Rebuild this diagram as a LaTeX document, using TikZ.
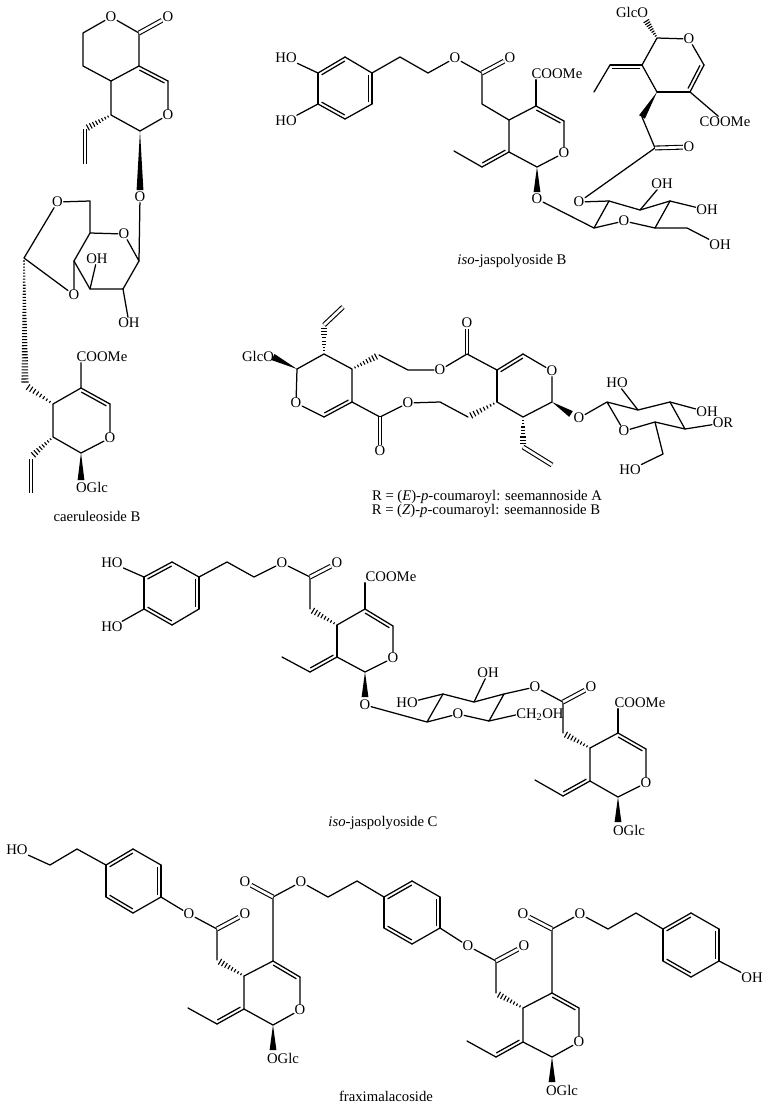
\documentclass[tikz,border=0pt]{standalone}
\usepackage{fontspec}
\setmainfont{Liberation Serif}
\usetikzlibrary{calc}
\tikzstyle{bond}=[line width=1.25pt,line cap=round,line join=round]
\tikzstyle{dblbond}=[line width=1.1pt,double,double distance=2.7pt]
\tikzstyle{atom}=[inner sep=0.6pt,font=\fontsize{14.7}{15}\selectfont]
\tikzstyle{caption}=[inner sep=0pt,font=\fontsize{14.7}{15}\selectfont]
% ring double bond, second line on one side (#1 = 1 or -1)
\newcommand{\dbond}[3][1]{
  \draw[bond] (#2) -- (#3);
  \draw[bond] ($(#2)!2.5pt!(#3)!{#1*3.4pt}!90:(#3)$) -- ($(#3)!2.5pt!(#2)!{#1*3.4pt}!-90:(#2)$);
}
\newcommand{\wbond}[2]{
  \fill ($(#2)!3.4pt!90:(#1)$) -- (#1) -- ($(#2)!3.4pt!-90:(#1)$) -- cycle;
}
\newcommand{\hbond}[3][9]{
  \foreach \k in {1,...,#1}{
    \pgfmathsetmacro\hpos{\k/#1}
    \draw[line width=1.1pt] ($(#2)!\hpos!(#3)!{(0.2+0.8*\hpos)*3.6pt}!90:(#3)$) -- ($(#2)!\hpos!(#3)!{(0.2+0.8*\hpos)*3.6pt}!-90:(#3)$);
  }
}
\newcommand{\chain}[1]{\draw[bond] #1;}
\begin{document}
\begin{tikzpicture}[x=1pt,y=-1pt]
  \useasboundingbox (0,0) rectangle (769,1106);

  % caeruleoside B
  \node[atom] (caO1) at (111,17) {O};
  \node[atom] (caO2) at (168,17) {O};
  \node[atom] (caO3) at (168,115) {O};
  \node[atom] (caO4) at (140,197) {O};
  \node[atom] (caO5) at (57.5,202) {O};
  \node[atom] (caO6) at (124,234) {O};
  \node[atom] (caO7) at (74,295) {O};
  \node[atom] (caOH1) at (97,259) {OH};
  \node[atom] (caOH2) at (129,323) {OH};
  \node[atom] (caest) at (102,357) {COOMe};
  \node[atom] (caO8) at (110,438) {O};
  \node[atom] (caglc) at (92,487) {OGlc};
  \node[caption] (caname) at (97,516) {caeruleoside B};
  \foreach \n/\x/\y in {c1/139/33,c2/83/33,c3/83/66,c4/111/81,c5/139/66,c6/168/81,c7/140/131,c8/111/115,
      c9/85/129,c10/85/164,c11/90/201,c12/90/233,c13/139/261,c14/123/289,c15/90/289,c16/74/261,c17/24/258,
      c18/25/385,c19/53/404,c20/81/388,c21/110/404,c22/81/453,c23/53/437,c24/31/457,c25/31/493,c26/81/480,
      c27/140/190,c28/31/459}
    {\coordinate (\n) at (\x,\y);}
  \chain{(caO1) -- (c2) -- (c3) -- (c4) -- (c5) -- (c1) -- (caO1)}
  \draw[dblbond] (c1) -- (caO2);
  \dbond[-1]{c5}{c6}
  \chain{(c6) -- (caO3) -- (c7) -- (c8) -- (c4)}
  \hbond[9]{c8}{c9}
  \draw[dblbond] (c9) -- (c10);
  \wbond{c7}{c27}
  \chain{(caO4) -- (c13) -- (caO6) -- (c12) -- (c11) -- (caO5) -- (c17) -- (caO7) -- (c16) -- (c12)}
  \chain{(c13) -- (c14) -- (c15) -- (c16)}
  \chain{(c15) -- (caOH1)}
  \chain{(c14) -- (caOH2)}
  \hbond[42]{c17}{c18}
  \hbond[9]{c19}{c18}
  \chain{(caest.south -| c20) -- (c20) -- (c19) -- (c23) -- (c22) -- (caO8) -- (c21)}
  \dbond[-1]{c20}{c21}
  \hbond[9]{c23}{c24}
  \draw[dblbond] (c28) -- (c25);
  \wbond{c22}{c26}

  % iso-jaspolyoside B
  \node[atom] (jbHO1) at (286,58) {HO};
  \node[atom] (jbHO2) at (286,121) {HO};
  \node[atom] (jbO1) at (455,58) {O};
  \node[atom] (jbO2) at (510,58) {O};
  \node[atom] (jbest1) at (557,74) {COOMe};
  \node[atom] (jbO3) at (564,153) {O};
  \node[atom] (jbO4) at (537,199) {O};
  \node[atom] (jbO5) at (579,202) {O};
  \node[atom] (jbO6) at (624,221) {O};
  \node[atom] (jbOH1) at (662,184) {OH};
  \node[atom] (jbOH2) at (707,210) {OH};
  \node[atom] (jbOH3) at (720,245) {OH};
  \node[atom] (jbO7) at (689,147) {O};
  \node[atom] (jbO8) at (689,39) {O};
  \node[atom] (jbglc) at (632,12) {GlcO};
  \node[atom] (jbest2) at (725,122) {COOMe};
  \node[caption] (jbname) at (512,261) {\textit{iso}-jaspolyoside B};
  \foreach \n/\x/\y in {b1/318/73,b2/345/57,b3/372/73,b4/372/104,b5/345/119,b6/318/104,b7/400/57,b8/428/73,
      b9/482/73,b10/482/104,b11/509/120,b12/509/152,b13/482/167,b14/454/151,b15/536/106,b16/564/121,b17/537/167,
      b18/537/192,b19/594/228,b20/609/201,b21/640/210,b22/670/201,b23/655/228,b24/687/228,b25/655/148,b26/642/117,
      b27/657/92,b28/690/92,b29/704/65,b30/657/38,b31/642/65,b32/610/65,b33/594/92,b34/645/19}
    {\coordinate (\n) at (\x,\y);}
  \dbond[-1]{b1}{b2}
  \chain{(b2) -- (b3)}
  \dbond[-1]{b3}{b4}
  \chain{(b4) -- (b5)}
  \dbond[-1]{b5}{b6}
  \chain{(b6) -- (b1)}
  \chain{(jbHO1) -- (b1)}
  \chain{(jbHO2) -- (b6)}
  \chain{(b3) -- (b7) -- (b8) -- (jbO1) -- (b9) -- (b10) -- (b11) -- (b12)}
  \draw[dblbond] (b9) -- (jbO2);
  \dbond[-1]{b12}{b13}
  \chain{(b13) -- (b14)}
  \chain{(b11) -- (b15)}
  \chain{(jbest1.south -| b15) -- (b15)}
  \dbond[-1]{b15}{b16}
  \chain{(b16) -- (jbO3) -- (b17) -- (b12)}
  \wbond{b17}{b18}
  \chain{(jbO4) -- (b19) -- (b20) -- (b21) -- (b22)}
  \chain{(b19) -- (jbO6) -- (b23) -- (b22)}
  \chain{(b23) -- (b24) -- (jbOH3)}
  \chain{(b20) -- (jbO5) -- (b25) -- (b26)}
  \chain{(b21) -- (jbOH1)}
  \chain{(b22) -- (jbOH2)}
  \draw[dblbond] (b25) -- (jbO7);
  \wbond{b27}{b26}
  \chain{(b27) -- (b28)}
  \dbond[1]{b28}{b29}
  \chain{(b29) -- (jbO8) -- (b30) -- (b31) -- (b27)}
  \dbond[1]{b31}{b32}
  \chain{(b32) -- (b33)}
  \hbond[9]{b30}{b34}
  \chain{(b28) -- (jbest2)}

  % seemannoside A and B
  \node[atom] (smglc) at (258,356) {GlcO};
  \node[atom] (smO1) at (296,403) {O};
  \node[atom] (smO2) at (440,370) {O};
  \node[atom] (smO3) at (467,323) {O};
  \node[atom] (smO4) at (408,403) {O};
  \node[atom] (smO5) at (380,451) {O};
  \node[atom] (smO6) at (552,371) {O};
  \node[atom] (smO7) at (579,418) {O};
  \node[atom] (smO8) at (624,431) {O};
  \node[atom] (smHO1) at (617,383) {HO};
  \node[atom] (smOH) at (707,412) {OH};
  \node[atom] (smOR) at (723,423) {OR};
  \node[atom] (smHO2) at (630,470) {HO};
  \node[caption] (smnameA) at (487,497) {R = (\textit{E})-\textit{p}-coumaroyl: seemannoside A};
  \node[caption] (smnameB) at (486,511) {R = (\textit{Z})-\textit{p}-coumaroyl: seemannoside B};
  \foreach \n/\x/\y in {s1/297/369,s2/324/417,s3/352/402,s4/352/369,s5/324/354,s6/324/325,s7/343/307,s8/379/355,
      s9/408/370,s10/467/354,s11/497/370,s12/380/417,s13/440/402,s14/468/417,s15/497/402,s16/523/354,s17/552/402,
      s18/523/417,s19/523/447,s20/552/465,s21/571/414,s22/607/402,s23/638/410,s24/670/402,s25/685/429,s26/655/422,
      s27/663/454,s28/273/357}
    {\coordinate (\n) at (\x,\y);}
  \wbond{s1}{s28}
  \chain{(s1) -- (smO1) -- (s2)}
  \dbond[1]{s2}{s3}
  \chain{(s3) -- (s4) -- (s5) -- (s1)}
  \hbond[9]{s5}{s6}
  \draw[dblbond] (s6) -- (s7);
  \hbond[9]{s4}{s8}
  \chain{(s8) -- (s9) -- (smO2) -- (s10)}
  \draw[dblbond] (s10) -- (smO3);
  \chain{(s10) -- (s11)}
  \chain{(s3) -- (s12) -- (smO4) -- (s13) -- (s14)}
  \draw[dblbond] (s12) -- (smO5);
  \hbond[9]{s15}{s14}
  \chain{(s15) -- (s11)}
  \dbond[-1]{s11}{s16}
  \chain{(s16) -- (smO6) -- (s17) -- (s18) -- (s15)}
  \hbond[9]{s18}{s19}
  \draw[dblbond] (s19) -- (s20);
  \wbond{s17}{s21}
  \chain{(smO7) -- (s22) -- (s23) -- (s24) -- (s25) -- (s26) -- (smO8) -- (s22)}
  \chain{(s23) -- (smHO1)}
  \chain{(s24) -- (smOH)}
  \chain{(s25) -- (smOR)}
  \chain{(s26) -- (s27) -- (smHO2)}

  % iso-jaspolyoside C
  \node[atom] (jcHO1) at (112,563) {HO};
  \node[atom] (jcHO2) at (112,627) {HO};
  \node[atom] (jcO1) at (282,563) {O};
  \node[atom] (jcO2) at (337,563) {O};
  \node[atom] (jcest1) at (391,577) {COOMe};
  \node[atom] (jcO3) at (393,658) {O};
  \node[atom] (jcO4) at (365,705) {O};
  \node[atom] (jcHO3) at (407,703) {HO};
  \node[atom] (jcO5) at (458,714) {O};
  \node[atom] (jcOH) at (488,673) {OH};
  \node[atom] (jcO6) at (535,687) {O};
  \node[atom] (jcO7) at (591,687) {O};
  \node[atom,anchor=west] (jcch) at (515.5,715) {CH\textsubscript{2}OH};
  \node[atom] (jcest2) at (640,703) {COOMe};
  \node[atom] (jcO8) at (646,783) {O};
  \node[atom] (jcglc) at (629,830) {OGlc};
  \node[caption] (jcname) at (383,823) {\textit{iso}-jaspolyoside C};
  \foreach \n/\x/\y in {d1/144/577,d2/172/562,d3/199/577,d4/199/609,d5/172/625,d6/144/609,d7/227/562,d8/254/577,
      d9/310/577,d10/310/609,d11/337/625,d12/337/657,d13/310/672,d14/282/657,d15/365/609,d16/393/626,d17/365/672,
      d18/365/697,d19/427/722,d20/443/694,d21/474/702,d22/504/694,d23/489/721,d24/563/702,d25/563/733,d26/590/748,
      d27/618/733,d28/646/749,d29/618/797,d30/590/781,d31/563/796,d32/535/780,d33/618/822}
    {\coordinate (\n) at (\x,\y);}
  \dbond[-1]{d1}{d2}
  \chain{(d2) -- (d3)}
  \dbond[-1]{d3}{d4}
  \chain{(d4) -- (d5)}
  \dbond[-1]{d5}{d6}
  \chain{(d6) -- (d1)}
  \chain{(jcHO1) -- (d1)}
  \chain{(jcHO2) -- (d6)}
  \chain{(d3) -- (d7) -- (d8) -- (jcO1) -- (d9) -- (d10)}
  \draw[dblbond] (d9) -- (jcO2);
  \hbond[9]{d11}{d10}
  \chain{(d11) -- (d12)}
  \dbond[-1]{d12}{d13}
  \chain{(d13) -- (d14)}
  \chain{(d11) -- (d15)}
  \chain{(jcest1.south -| d15) -- (d15)}
  \dbond[-1]{d15}{d16}
  \chain{(d16) -- (jcO3) -- (d17) -- (d12)}
  \wbond{d17}{d18}
  \chain{(jcO4) -- (d19) -- (d20) -- (d21) -- (d22) -- (d23) -- (jcO5) -- (d19)}
  \chain{(d20) -- (jcHO3)}
  \chain{(d21) -- (jcOH)}
  \chain{(d22) -- (jcO6) -- (d24) -- (d25)}
  \chain{(d23) -- (jcch.west)}
  \draw[dblbond] (d24) -- (jcO7);
  \hbond[9]{d26}{d25}
  \chain{(d26) -- (d27)}
  \chain{(jcest2.south -| d27) -- (d27)}
  \dbond[-1]{d27}{d28}
  \chain{(d28) -- (jcO8) -- (d29) -- (d30) -- (d26)}
  \dbond[-1]{d30}{d31}
  \chain{(d31) -- (d32)}
  \wbond{d29}{d33}

  % fraximalacoside
  \node[atom] (fxHO) at (17,850) {HO};
  \node[atom] (fxO1) at (189,914) {O};
  \node[atom] (fxO2) at (245,914) {O};
  \node[atom] (fxO3) at (245,882) {O};
  \node[atom] (fxO4) at (301,882) {O};
  \node[atom] (fxO5) at (300,1010) {O};
  \node[atom] (fxglc1) at (283,1058) {OGlc};
  \node[atom] (fxO6) at (468,946) {O};
  \node[atom] (fxO7) at (524,946) {O};
  \node[atom] (fxO8) at (523,914) {O};
  \node[atom] (fxO9) at (580,914) {O};
  \node[atom] (fxO10) at (579,1042) {O};
  \node[atom] (fxglc2) at (562,1090) {OGlc};
  \node[atom] (fxOH) at (752,978) {OH};
  \node[caption] (fxname) at (386,1096) {fraximalacoside};
  \foreach \n/\x/\y in {f1/50/865,f2/77/849,f3/106/865,f4/133/849,f5/161/865,f6/161/897,f7/133/913,f8/106/897,
      f9/217/929,f10/217/960,f11/244/976,f12/273/961,f13/300/977,f14/273/1025,f15/244/1009,f16/217/1024,f17/188/1008,
      f18/273/1050,f19/273/897,f20/328/897,f21/357/881,f22/384/897,f23/412/881,f24/440/897,f25/440/928,f26/412/944,
      f27/384/928,f28/496/961,f29/496/993,f30/523/1008,f31/552/993,f32/579/1008,f33/552/1057,f34/523/1042,f35/496/1057,
      f36/467/1041,f37/552/1082,f38/552/929,f39/608/929,f40/636/913,f41/663/929,f42/691/913,f43/719/929,f44/719/961,
      f45/691/977,f46/663/961}
    {\coordinate (\n) at (\x,\y);}
  \chain{(fxHO) -- (f1) -- (f2) -- (f3)}
  \dbond[-1]{f3}{f4}
  \chain{(f4) -- (f5)}
  \dbond[-1]{f5}{f6}
  \chain{(f6) -- (f7)}
  \dbond[-1]{f7}{f8}
  \chain{(f8) -- (f3)}
  \chain{(f6) -- (fxO1) -- (f9) -- (f10)}
  \draw[dblbond] (f9) -- (fxO2);
  \hbond[9]{f11}{f10}
  \chain{(f11) -- (f12) -- (f19) -- (fxO4) -- (f20) -- (f21) -- (f22)}
  \draw[dblbond] (f19) -- (fxO3);
  \dbond[-1]{f12}{f13}
  \chain{(f13) -- (fxO5) -- (f14) -- (f15) -- (f11)}
  \dbond[-1]{f15}{f16}
  \chain{(f16) -- (f17)}
  \wbond{f14}{f18}
  \dbond[-1]{f22}{f23}
  \chain{(f23) -- (f24)}
  \dbond[-1]{f24}{f25}
  \chain{(f25) -- (f26)}
  \dbond[-1]{f26}{f27}
  \chain{(f27) -- (f22)}
  \chain{(f25) -- (fxO6) -- (f28) -- (f29)}
  \draw[dblbond] (f28) -- (fxO7);
  \hbond[9]{f30}{f29}
  \chain{(f30) -- (f31) -- (f38) -- (fxO9) -- (f39) -- (f40) -- (f41)}
  \draw[dblbond] (f38) -- (fxO8);
  \dbond[-1]{f31}{f32}
  \chain{(f32) -- (fxO10) -- (f33) -- (f34) -- (f30)}
  \dbond[-1]{f34}{f35}
  \chain{(f35) -- (f36)}
  \wbond{f33}{f37}
  \dbond[-1]{f41}{f42}
  \chain{(f42) -- (f43)}
  \dbond[-1]{f43}{f44}
  \chain{(f44) -- (f45)}
  \dbond[-1]{f45}{f46}
  \chain{(f46) -- (f41)}
  \chain{(f44) -- (fxOH)}
\end{tikzpicture}
\end{document}
